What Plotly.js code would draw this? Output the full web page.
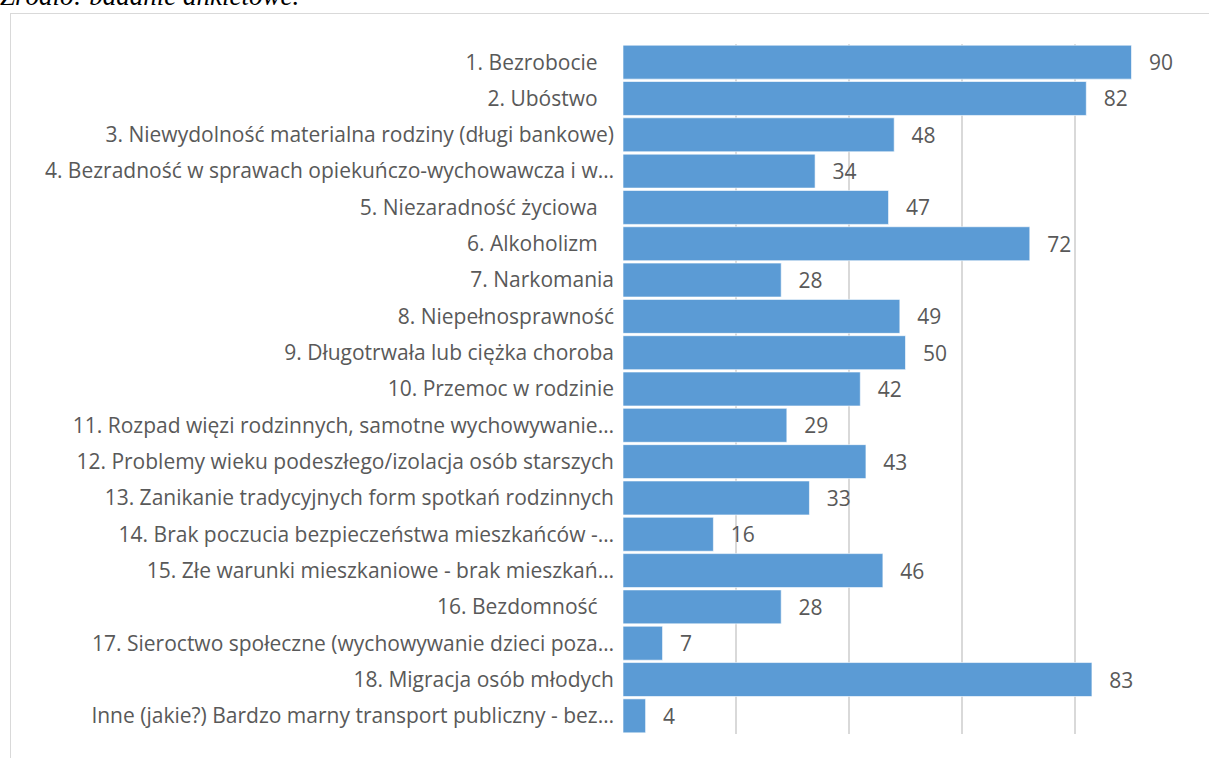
<!DOCTYPE html>
<html>
<head>
<meta charset="utf-8">
<script src="https://cdn.plot.ly/plotly-3.0.1.min.js"></script>
<style>
  html, body { margin:0; padding:0; width:1209px; height:758px; overflow:hidden; background:#fff; }
  #src { position:absolute; left:0; top:-17px; line-height:27px; font-family:"Liberation Serif", serif; font-style:italic; font-size:27px; color:#000; white-space:nowrap; }
  #frame { position:absolute; left:10px; top:13px; width:1300px; height:900px; border:1px solid #d9d9d9; box-sizing:border-box; }
  #chart { position:absolute; left:0; top:0; width:1209px; height:758px; }
</style>
</head>
<body>
<div id="src">Źródło: badanie ankietowe.</div>
<div id="frame"></div>
<div id="chart"></div>
<script>
const categories = [
  "1. Bezrobocie\u00a0\u00a0\u00a0",
  "2. Ubóstwo\u00a0\u00a0\u00a0",
  "3. Niewydolność materialna rodziny (długi bankowe)",
  "4. Bezradność w sprawach opiekuńczo-wychowawcza i w…",
  "5. Niezaradność życiowa\u00a0\u00a0\u00a0",
  "6. Alkoholizm\u00a0\u00a0\u00a0",
  "7. Narkomania",
  "8. Niepełnosprawność",
  "9. Długotrwała lub ciężka choroba",
  "10. Przemoc w rodzinie",
  "11. Rozpad więzi rodzinnych, samotne wychowywanie…",
  "12. Problemy wieku podeszłego/izolacja osób starszych",
  "13. Zanikanie tradycyjnych form spotkań rodzinnych",
  "14. Brak poczucia bezpieczeństwa mieszkańców -…",
  "15. Złe warunki mieszkaniowe - brak mieszkań…",
  "16. Bezdomność\u00a0\u00a0\u00a0",
  "17. Sieroctwo społeczne (wychowywanie dzieci poza…",
  "18. Migracja osób młodych",
  "Inne (jakie?) Bardzo marny transport publiczny - bez…"
];
const values = [90, 82, 48, 34, 47, 72, 28, 49, 50, 42, 29, 43, 33, 16, 46, 28, 7, 83, 4];
const xTicks = [0, 20, 40, 60, 80, 100];

const trace = {
  type: 'bar',
  orientation: 'h',
  y: categories,
  x: values,
  marker: { color: '#5b9bd5', line: { color: 'rgba(255,255,255,0.6)', width: 1 } },
  text: values.map(v => '\u00a0\u00a0\u2009' + v),
  textposition: 'outside',
  cliponaxis: false,
  textfont: { family: '"Open Sans", sans-serif', size: 21, color: '#595959' },
  hoverinfo: 'skip'
};

const layout = {
  width: 1209, height: 758,
  margin: { l: 623, r: 21, t: 44, b: 24 },
  paper_bgcolor: 'rgba(0,0,0,0)',
  plot_bgcolor: 'rgba(0,0,0,0)',
  bargap: 0.065,
  showlegend: false,
  xaxis: {
    range: [0, 100],
    tickvals: xTicks,
    showticklabels: false,
    showgrid: true,
    gridcolor: '#d9d9d9',
    gridwidth: 1.5,
    zeroline: false,
    showline: false,
    fixedrange: true
  },
  yaxis: {
    autorange: 'reversed',
    type: 'category',
    showgrid: false,
    zeroline: false,
    showline: false,
    ticks: '',
    ticklabelstandoff: 8,
    tickfont: { family: '"Open Sans", sans-serif', size: 21, color: '#595959' },
    fixedrange: true
  }
};

Plotly.newPlot('chart', [trace], layout, { displayModeBar: false, staticPlot: true });
</script>
</body>
</html>
